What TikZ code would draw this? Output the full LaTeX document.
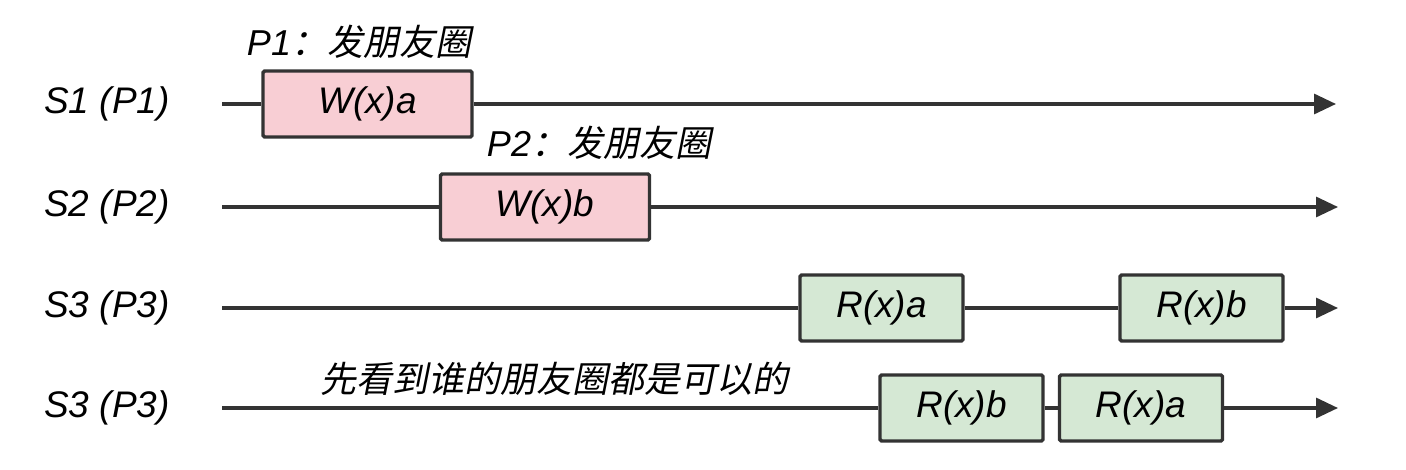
\documentclass[tikz,border=0pt]{standalone}
\usepackage{fontspec}
\setmainfont{Liberation Sans}
\newfontfamily\cjk[FakeSlant=0.2]{Noto Sans CJK SC}
\usetikzlibrary{arrows.meta,positioning}
\definecolor{tLine}{RGB}{51,51,51}
\definecolor{tWrite}{RGB}{248,206,212}
\definecolor{tRead}{RGB}{213,232,212}

\begin{document}
\begin{tikzpicture}[
		x=0.5pt,y=-0.5pt,
		font=\fontsize{18.5}{22}\selectfont\itshape,
		op/.style={draw=tLine,line width=1.7pt,minimum height=33pt,inner sep=0pt,rounded corners=0.8pt},
		wbox/.style={op,fill=tWrite,minimum width=104.5pt},
		rbox/.style={op,fill=tRead,minimum width=81.5pt},
		note/.style={font=\fontsize{18}{22}\selectfont\itshape},
		tl/.style={draw=tLine,line width=1.6pt},
		tlend/.style={tl,-{Triangle[length=11pt,width=10pt]}}
	]
	\useasboundingbox (0,0) rectangle (1406,470);

	% server labels
	\node (s1) at (107,104) {S1 (P1)};
	\node (s2) at (107,207) {S2 (P2)};
	\node (s3) at (107,308) {S3 (P3)};
	\node (s4) at (107,408) {S3 (P3)};

	% timeline ends
	\coordinate (a0) at (222,104);
	\coordinate (a1) at (1336,104);
	\coordinate (b0) at (222,207);
	\coordinate (b1) at (1338,207);
	\coordinate (c0) at (222,308);
	\coordinate (c1) at (1338,308);
	\coordinate (d0) at (222,408);
	\coordinate (d1) at (1338,408);

	% operations
	\node[wbox] (wa) at (367.5,104) {W(x)a};
	\node[wbox] (wb) at (545,207) {W(x)b};
	\node[rbox] (ra3) at (881.5,308) {R(x)a};
	\node[rbox] (rb3) at (1201.5,308) {R(x)b};
	\node[rbox] (rb4) at (961.5,408) {R(x)b};
	\node[rbox] (ra4) at (1141,408) {R(x)a};

	% notes
	\node[note] (n1) at (359,42) {P1{\cjk ：发朋友圈}};
	\node[note] (n2) at (599,143) {P2{\cjk ：发朋友圈}};
	\node[note] (n3) at (554,379) {\cjk 先看到谁的朋友圈都是可以的};

	\draw[tl] (a0) -- (wa.west);
	\draw[tlend] (wa.east) -- (a1);
	\draw[tl] (b0) -- (wb.west);
	\draw[tlend] (wb.east) -- (b1);
	\draw[tl] (c0) -- (ra3.west);
	\draw[tl] (ra3.east) -- (rb3.west);
	\draw[tlend] (rb3.east) -- (c1);
	\draw[tl] (d0) -- (rb4.west);
	\draw[tl] (rb4.east) -- (ra4.west);
	\draw[tlend] (ra4.east) -- (d1);
\end{tikzpicture}
\end{document}
